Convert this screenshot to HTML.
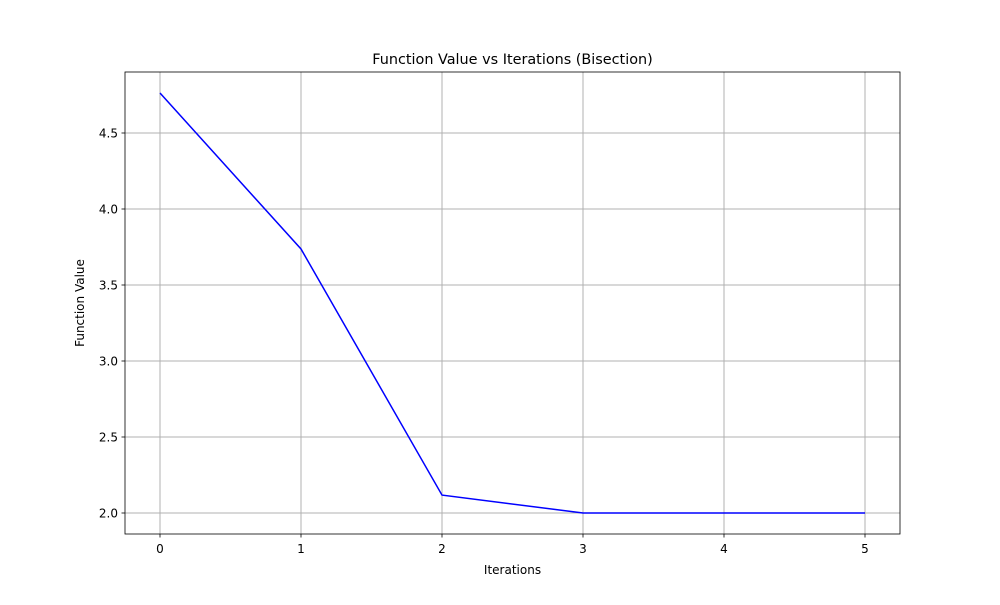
<!DOCTYPE html>
<html><head><meta charset="utf-8"><style>
body{margin:0;background:#fff;font-family:"Liberation Sans","DejaVu Sans",sans-serif;}
svg text{font-family:"DejaVu Sans","Liberation Sans",sans-serif;}
</style></head><body>
<svg id="chart" width="1000" height="600" xmlns="http://www.w3.org/2000/svg">
<rect width="1000" height="600" fill="#fff"/>
<text x="512.5" y="64" text-anchor="middle" font-size="14.4">Function Value vs Iterations (Bisection)</text>
<g id="grid"></g><g id="ticks"></g>
<polyline id="line" fill="none" stroke="#0000ff" stroke-width="1.5"/>
<rect x="125" y="72" width="775" height="462" fill="none" stroke="#000" stroke-width="0.8"/>
<text x="512.5" y="574" text-anchor="middle" font-size="12">Iterations</text>
<text transform="translate(84,303) rotate(-90)" text-anchor="middle" font-size="12">Function Value</text>
</svg>
<script>
const iterations=[0,1,2,3,4,5];
const values=[4.763,3.737,2.118,2.0,2.0,2.0];
const xTicks=[0,1,2,3,4,5];
const yTicks=[2.0,2.5,3.0,3.5,4.0,4.5];
const X=v=>160+v*141;
const Y=v=>513-(v-2)*152;
const NS="http://www.w3.org/2000/svg";
const g=document.getElementById('grid'),t=document.getElementById('ticks');
function mk(tag,attrs,parent){const e=document.createElementNS(NS,tag);for(const k in attrs)e.setAttribute(k,attrs[k]);parent.appendChild(e);return e;}
xTicks.forEach(v=>{
 const l=mk('line',{x1:X(v),x2:X(v),y1:72,y2:534,stroke:'#b0b0b0','stroke-width':1},g);
 
 
 mk('line',{x1:X(v),x2:X(v),y1:534,y2:537.5,stroke:'#000','stroke-width':0.8},t);
 const tx=mk('text',{x:X(v),y:553,'text-anchor':'middle','font-size':12},t);tx.textContent=v;
 
 
});
yTicks.forEach(v=>{
 const l=mk('line',{x1:125,x2:900,y1:Y(v),y2:Y(v),stroke:'#b0b0b0','stroke-width':1},g);
 
 
 mk('line',{x1:121.5,x2:125,y1:Y(v),y2:Y(v),stroke:'#000','stroke-width':0.8},t);
 const tx=mk('text',{x:118,y:Y(v)+4.5,'text-anchor':'end','font-size':12},t);tx.textContent=v.toFixed(1);
 
 
});
document.getElementById('line').setAttribute('points',iterations.map((x,i)=>X(x)+','+Y(values[i])).join(' '));
</script>
</body></html>
